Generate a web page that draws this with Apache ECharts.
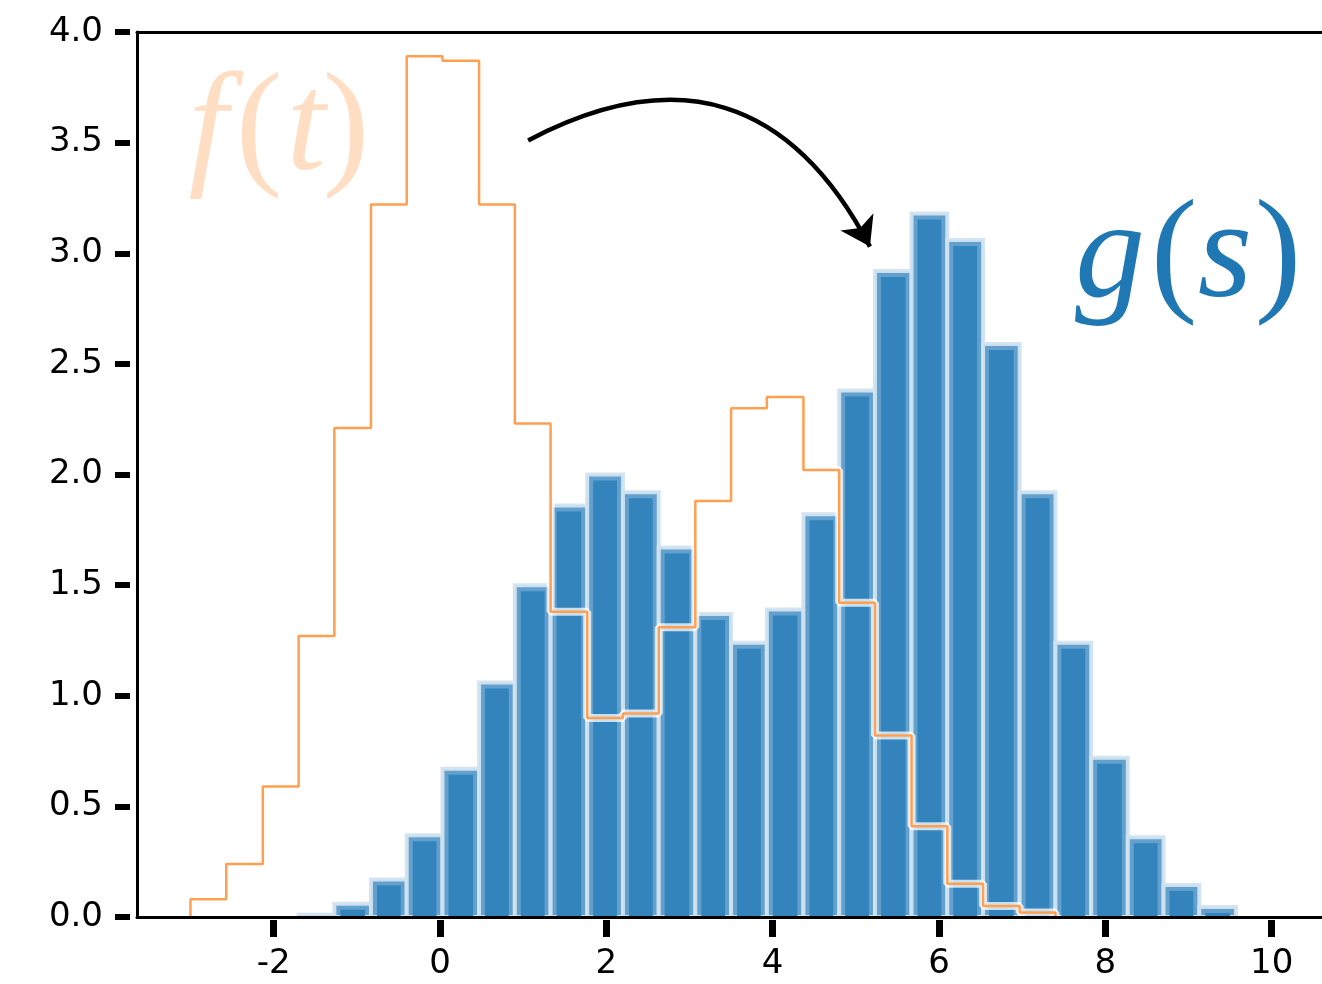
<!DOCTYPE html>
<html>
<head>
<meta charset="utf-8">
<script src="https://cdn.jsdelivr.net/npm/echarts@6/dist/echarts.min.js"></script>
<style>
  html, body { margin: 0; padding: 0; background: #fff; }
  #main { width: 1322px; height: 984px; }
</style>
</head>
<body>
<div id="main"></div>
<script>
// bin edges shared by both histograms
var binEdges = [-3.00, -2.57, -2.13, -1.70, -1.27, -0.83, -0.40, 0.03, 0.47, 0.90,
                1.33, 1.77, 2.20, 2.63, 3.07, 3.50, 3.93, 4.37, 4.80, 5.23,
                5.67, 6.10, 6.53, 6.97, 7.40, 7.83, 8.27, 8.70, 9.13, 9.57];

// f(t): orange step outline, bins 0..23
var fHeights = [0.08, 0.24, 0.59, 1.27, 2.21, 3.22, 3.89, 3.87, 3.22, 2.23,
                1.38, 0.90, 0.92, 1.31, 1.88, 2.30, 2.35, 2.02, 1.42, 0.82,
                0.41, 0.15, 0.05, 0.02];

// g(s): blue bars, bins 3..28
var gFirstBin = 3;
var gHeights = [0.01, 0.06, 0.17, 0.37, 0.67, 1.06, 1.50, 1.86, 2.00, 1.92,
                1.67, 1.37, 1.24, 1.39, 1.82, 2.38, 2.92, 3.18, 3.06, 2.59,
                1.92, 1.24, 0.72, 0.36, 0.145, 0.045];

var xTicks = [-2, 0, 2, 4, 6, 8, 10];
var arrowFrom = [1.06, 3.51];
var arrowTo = [5.17, 3.03];

var xMin = -3.643, xMax = 10.605;

// build data
var gData = [];
for (var i = 0; i < gHeights.length; i++) {
    gData.push([binEdges[gFirstBin + i], binEdges[gFirstBin + i + 1], gHeights[i]]);
}
var fData = [[binEdges[0], 0]];
for (var j = 0; j < fHeights.length; j++) {
    fData.push([binEdges[j], fHeights[j]]);
}
fData.push([binEdges[fHeights.length], 0]);

var chart = echarts.init(document.getElementById('main'));

var tickFont = { fontSize: 34, color: '#000', fontFamily: 'DejaVu Sans' };

function glyph(ch, x, y, italic, color) {
    return {
        type: 'text', x: x, y: y, z: 20,
        style: {
            text: ch,
            font: (italic ? 'italic ' : '') + '140px "Liberation Serif", "Times New Roman", serif',
            fill: color, align: 'center', verticalAlign: 'middle'
        }
    };
}

var option = {
    animation: false,
    backgroundColor: '#fff',
    grid: { left: 137, right: 0, top: 32, bottom: 67 },
    xAxis: [
        {
            type: 'value', min: xMin, max: xMax, position: 'bottom', offset: 3,
            axisLine: { show: false, onZero: false },
            axisTick: { show: true, customValues: xTicks, length: 17, lineStyle: { color: '#000', width: 7 } },
            axisLabel: Object.assign({ customValues: xTicks, margin: 27 }, tickFont),
            splitLine: { show: false }
        },
        {
            type: 'value', min: xMin, max: xMax, position: 'bottom', offset: 0, z: 10,
            axisLine: { show: true, onZero: false, lineStyle: { color: '#000', width: 3 } },
            axisTick: { show: false }, axisLabel: { show: false }, splitLine: { show: false }
        },
        {
            type: 'value', min: xMin, max: xMax, position: 'top', offset: 0, z: 10,
            axisLine: { show: true, onZero: false, lineStyle: { color: '#000', width: 3 } },
            axisTick: { show: false }, axisLabel: { show: false }, splitLine: { show: false }
        }
    ],
    yAxis: [
        {
            type: 'value', min: 0, max: 4, interval: 0.5, position: 'left', offset: 7,
            axisLine: { show: false, onZero: false },
            axisTick: { show: true, length: 15, lineStyle: { color: '#000', width: 6 } },
            axisLabel: Object.assign({ margin: 27, formatter: function (v) { return v.toFixed(1); } }, tickFont),
            splitLine: { show: false }
        },
        {
            type: 'value', min: 0, max: 4, position: 'left', offset: 0, z: 10,
            axisLine: { show: true, onZero: false, lineStyle: { color: '#000', width: 3 } },
            axisTick: { show: false }, axisLabel: { show: false }, splitLine: { show: false }
        }
    ],
    series: [
        {
            // g(s) histogram
            type: 'custom',
            xAxisIndex: 0, yAxisIndex: 0,
            data: gData,
            encode: { x: [0, 1], y: 2 },
            renderItem: function (params, api) {
                var p0 = api.coord([api.value(0), api.value(2)]);
                var p1 = api.coord([api.value(1), 0]);
                var x = p0[0], y = p0[1], w = p1[0] - p0[0], h = p1[1] - p0[1];
                return {
                    type: 'group',
                    children: [
                        { type: 'rect', shape: { x: x, y: y, width: w, height: h },
                          style: { fill: '#62a1cd', stroke: 'rgba(210,227,240,0.95)', lineWidth: 4 } },
                        { type: 'rect', shape: { x: x + 6, y: y + 6, width: w - 12, height: Math.max(h - 6, 0) },
                          style: { fill: '#3383bc' } }
                    ]
                };
            }
        },
        {
            // white halo under the orange outline
            type: 'line', step: 'end', data: fData, showSymbol: false, symbol: 'none',
            lineStyle: { color: 'rgba(255,255,255,0.75)', width: 8 },
            silent: true
        },
        {
            // f(t) outline
            type: 'line', step: 'end', data: fData, showSymbol: false, symbol: 'none',
            lineStyle: { color: '#ffa050', width: 2.5 },
            silent: true
        },
        {
            // the arrow from f(t) to g(s)
            type: 'lines',
            coordinateSystem: 'cartesian2d',
            silent: true,
            symbol: ['none', 'arrow'],
            symbolSize: [18, 28],
            lineStyle: { color: '#000', width: 4.5, opacity: 1, curveness: 0.5 },
            data: [{ coords: [arrowFrom, arrowTo] }]
        }
    ],
    graphic: [
        glyph('f', 208, 132, true, '#ffdec4'),
        glyph('(', 259, 132, false, '#ffdec4'),
        glyph('t', 306, 132, true, '#ffdec4'),
        glyph(')', 346, 132, false, '#ffdec4'),
        glyph('g', 1110, 259, true, '#1f77b4'),
        glyph('(', 1174, 259, false, '#1f77b4'),
        glyph('s', 1225, 259, true, '#1f77b4'),
        glyph(')', 1278, 259, false, '#1f77b4')
    ]
};

chart.setOption(option);
</script>
</body>
</html>
